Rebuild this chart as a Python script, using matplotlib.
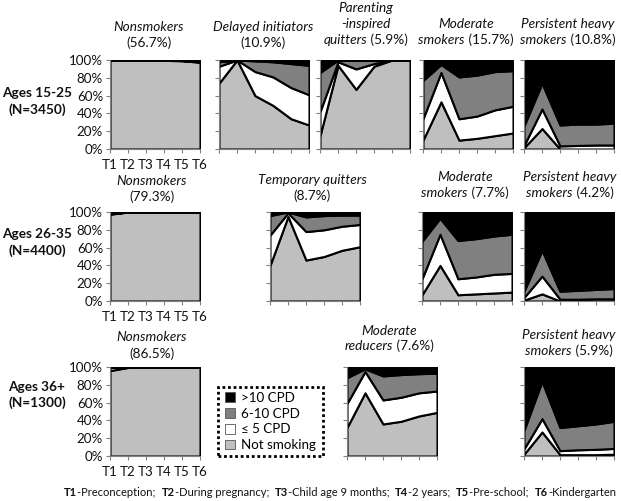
import matplotlib
matplotlib.use("Agg")
import matplotlib.pyplot as plt
from matplotlib.patches import Patch, Rectangle

plt.rcParams['font.family'] = ['Lato', 'DejaVu Sans']

W, H = 621, 501

times = ['T1', 'T2', 'T3', 'T4', 'T5', 'T6']
layer_names = ['Not smoking', '\u2264 5 CPD', '6-10 CPD', '>10 CPD']
layer_colors = ['#bfbfbf', '#ffffff', '#808080', '#000000']

# layers per panel: [not smoking, <=5 CPD, 6-10 CPD, >10 CPD] in % at T1..T6
# ages 15-25
r1_nonsmokers = [[100, 100, 100, 99.6, 99.2, 97.5],
                 [0, 0, 0, 0.1, 0.2, 0.5],
                 [0, 0, 0, 0.1, 0.2, 0.5],
                 [0, 0, 0, 0.2, 0.4, 1.5]]
r1_delayed = [[74, 100, 60, 49, 34, 27],
              [19, 0, 27, 32, 35, 34],
              [5, 0, 12, 17, 27, 33],
              [2, 0, 1, 2, 4, 6]]
r1_parenting = [[15, 94, 67, 93, 100, 100],
                [27, 4, 23, 3, 0, 0],
                [44, 2, 10, 4, 0, 0],
                [14, 0, 0, 0, 0, 0]]
r1_moderate = [[10, 53, 10, 12, 15, 18],
               [24, 33, 24, 25, 29, 30],
               [43, 9, 47, 46, 43, 40],
               [23, 5, 19, 17, 13, 12]]
r1_heavy = [[1.5, 23, 0, 0, 0, 0],
            [2.5, 22, 3.5, 4, 4.5, 4.5],
            [22, 29, 23.5, 24, 23.5, 24.5],
            [74, 26, 73, 72, 72, 71]]
# ages 26-35
r2_nonsmokers = [[97.5, 100, 100, 100, 100, 100],
                 [0.5, 0, 0, 0, 0, 0],
                 [0.5, 0, 0, 0, 0, 0],
                 [1.5, 0, 0, 0, 0, 0]]
r2_temporary = [[40, 95, 46, 50, 57, 61],
                [34, 4, 32, 30, 27, 25],
                [22, 1, 16.5, 16, 12.5, 10.5],
                [4, 0, 5.5, 4, 3.5, 3.5]]
r2_moderate = [[7, 40, 7, 8, 9, 10],
               [18, 35, 18, 19, 21, 21],
               [42, 18, 43, 43, 43, 44],
               [33, 7, 32, 30, 27, 25]]
r2_heavy = [[1, 8, 0, 0, 0, 0],
            [3, 20, 2, 2, 2.5, 2.5],
            [7, 29, 9, 10, 10.5, 11.5],
            [89, 43, 89, 88, 87, 86]]
# ages 36+
r3_nonsmokers = [[96, 99.5, 100, 100, 100, 100],
                 [3.5, 0.5, 0, 0, 0, 0],
                 [0.5, 0, 0, 0, 0, 0],
                 [0, 0, 0, 0, 0, 0]]
r3_reducers = [[32, 71, 36, 39, 45, 49],
               [27, 24, 27, 27, 26, 24],
               [29, 3, 27, 25.5, 21.5, 20],
               [12, 2, 10, 8.5, 7.5, 7]]
r3_heavy = [[2, 27, 1.5, 1.5, 1.5, 2],
            [6, 15, 4.5, 5.5, 6, 6.5],
            [21, 42, 26, 27, 28.5, 30.5],
            [71, 16, 68, 66, 64, 61]]

fig = plt.figure(figsize=(W / 100, H / 100), dpi=100)
fig.patch.set_facecolor('white')

IT = dict(style='italic')
RM = dict()
BD = dict(weight='bold')
TXT = 9.8


def mixed(xc, y, parts, size=TXT, fit=None):
    # place a line of text pieces with different styles, centred at xc (pixels from left)
    r = fig.canvas.get_renderer()
    txts = [fig.text(0, 0, s, fontsize=size, va='center', ha='left', color='#111111', **kw)
            for s, kw in parts]
    widths = [t.get_window_extent(r).width for t in txts]
    if fit is not None:
        # shrink the whole line to the wanted width
        k = fit / sum(widths)
        for t in txts:
            t.set_fontsize(size * k)
        widths = [t.get_window_extent(r).width for t in txts]
    x0 = xc - sum(widths) / 2
    for t, w in zip(txts, widths):
        t.set_position((x0 / W, 1 - y / H))
        x0 += w


def panel(data, left, right, top, bottom, ylabels=False, xlabels=False):
    ax = fig.add_axes([left / W, 1 - bottom / H, (right - left) / W, (bottom - top) / H])
    x = list(range(len(times)))
    ax.stackplot(x, *data, colors=layer_colors, edgecolor='black', linewidth=1.5)
    ax.set_xlim(0, 5)
    ax.set_ylim(0, 100)
    ax.set_xticks(x)
    ax.set_yticks(range(0, 101, 20))
    ax.set_xticklabels(times if xlabels else [])
    ax.set_yticklabels([f'{v}%' for v in range(0, 101, 20)] if ylabels else [])
    ax.tick_params(direction='out', length=3, width=0.8, color='#808080',
                   labelsize=9.6, pad=2)
    ax.tick_params(axis='x', pad=4)
    for lab in ax.get_xticklabels() + ax.get_yticklabels():
        lab.set_color('#111111')
    for s in ['top', 'right']:
        ax.spines[s].set_visible(False)
    for s in ['left', 'bottom']:
        ax.spines[s].set_color('#808080')
    ax.set_facecolor('none')
    return ax


# row 1
panel(r1_nonsmokers, 110, 200, 60, 149, True, True)
panel(r1_delayed, 219, 309, 60, 149)
panel(r1_parenting, 320, 410, 60, 149)
panel(r1_moderate, 423, 513, 60, 149)
panel(r1_heavy, 524, 614, 60, 149)
# row 2
panel(r2_nonsmokers, 110, 200, 212, 301, True, True)
panel(r2_temporary, 270, 360, 212, 301)
panel(r2_moderate, 422, 512, 212, 301)
panel(r2_heavy, 524, 614, 212, 301)
# row 3
panel(r3_nonsmokers, 110, 200, 367, 456, True, True)
panel(r3_reducers, 347, 437, 367, 456)
panel(r3_heavy, 524, 614, 367, 456)

# panel titles
mixed(149, 27, [('Nonsmokers', IT)])
mixed(149, 43, [('(56.7%)', RM)])
mixed(263, 27, [('Delayed initiators', IT)])
mixed(263, 43, [('(10.9%)', RM)])
mixed(366, 8, [('Parenting', IT)])
mixed(366, 24, [('-inspired', IT)])
mixed(366, 40, [('quitters', IT), (' (5.9%)', RM)])
mixed(466, 24, [('Moderate', IT)])
mixed(466, 40, [('smokers', IT), (' (15.7%)', RM)])
mixed(568, 24, [('Persistent heavy', IT)])
mixed(568, 40, [('smokers', IT), (' (10.8%)', RM)])

mixed(152, 181, [('Nonsmokers', IT)])
mixed(152, 197, [('(79.3%)', RM)])
mixed(312, 180, [('Temporary quitters', IT)])
mixed(312, 196, [('(8.7%)', RM)])
mixed(465, 177, [('Moderate', IT)])
mixed(465, 193, [('smokers', IT), (' (7.7%)', RM)])
mixed(570, 177, [('Persistent heavy', IT)])
mixed(570, 193, [('smokers', IT), (' (4.2%)', RM)])

mixed(152, 337, [('Nonsmokers', IT)])
mixed(152, 354, [('(86.5%)', RM)])
mixed(389, 331, [('Moderate', IT)])
mixed(389, 346, [('reducers', IT), (' (7.6%)', RM)])
mixed(569, 335, [('Persistent heavy', IT)])
mixed(569, 351, [('smokers', IT), (' (5.9%)', RM)])

# row labels
for y, txt in [(93, 'Ages 15-25'), (110, '(N=3450)'),
               (234, 'Ages 26-35'), (251, '(N=4400)'),
               (387, 'Ages 36+'), (403, '(N=1300)')]:
    mixed(37, y, [(txt, BD)])

# footer
mixed(340, 492, [('T1', BD), ('-Preconception;  ', RM),
                 ('T2', BD), ('-During pregnancy;  ', RM),
                 ('T3', BD), ('-Child age 9 months;  ', RM),
                 ('T4', BD), ('-2 years;  ', RM),
                 ('T5', BD), ('-Pre-school;  ', RM),
                 ('T6', BD), ('-Kindergarten', RM)], size=8.4, fit=554)

# legend box
lax = fig.add_axes([218 / W, 1 - 456 / H, 105 / W, 69 / H])
lax.axis('off')
lax.add_patch(Rectangle((0, 0), 1, 1, transform=lax.transAxes, fill=False,
                        edgecolor='black', linewidth=2, linestyle=(0, (1, 1)),
                        clip_on=False))
handles = [Patch(facecolor=c, edgecolor='#555555', linewidth=0.6, label=n)
           for c, n in zip(layer_colors, layer_names)]
lax.legend(handles=handles[::-1], loc='center left', frameon=False, fontsize=9.6,
           handlelength=0.75, handleheight=0.75, handletextpad=0.5,
           labelspacing=0.28, borderaxespad=0.4, borderpad=0.1)

fig.savefig('out.png', dpi=100)
